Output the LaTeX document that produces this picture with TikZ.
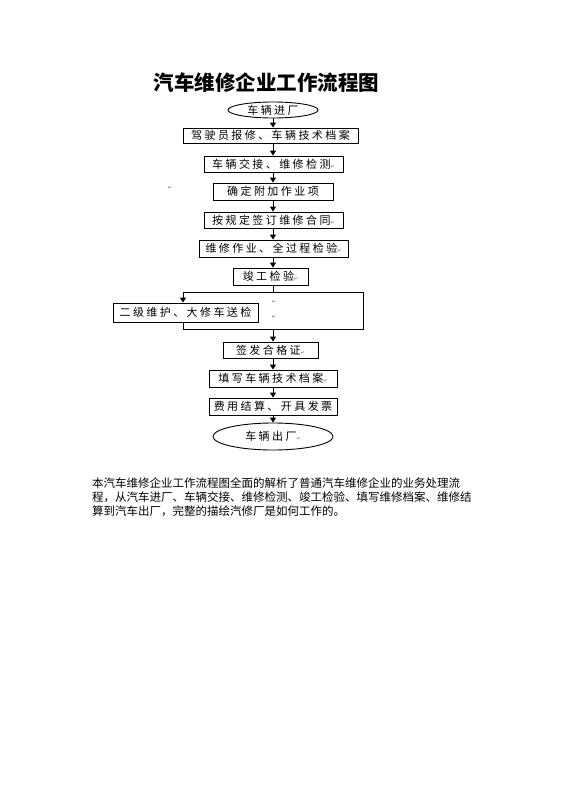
\documentclass[tikz,border=0pt]{standalone}
\usepackage{fontspec}
\usetikzlibrary{shapes.geometric,arrows.meta}
\newfontfamily\cjk{Noto Sans CJK SC}
\newfontfamily\cjkbox[LetterSpace=22]{Noto Sans CJK SC}
\newfontfamily\symfont{DejaVu Sans}
\newcommand{\pmark}{{\symfont\fontsize{5}{5}\selectfont\color{black!60}↵}}
\tikzset{
  x=1pt, y=-1pt,
  stepbox/.style={draw=black, line width=0.9pt, rectangle, inner sep=0pt, font=\cjkbox\fontsize{11}{11}\selectfont, text=black, fill=white},
  ovalbox/.style={draw=black, line width=0.9pt, ellipse, inner sep=0pt, font=\cjkbox\fontsize{11}{11}\selectfont, text=black, fill=white},
  arr/.style={line width=0.9pt, -{Triangle[length=5pt,width=6pt]}},
  ln/.style={line width=0.9pt},
}
\begin{document}
\begin{tikzpicture}
\useasboundingbox (0,0) rectangle (560,792);
\fill[white] (0,0) rectangle (560,792);
\node (title) at (266.5,83) {\cjk\bfseries\fontsize{20.5}{20.5}\selectfont 汽车维修企业工作流程图};
\node[ovalbox, minimum width=90pt, minimum height=16pt] (e1) at (273,110) {车辆进厂};
\node[stepbox, minimum width=175pt, minimum height=15pt] (b1) at (270.5,135.5) {驾驶员报修、车辆技术档案};
\node[stepbox, minimum width=139pt, minimum height=16pt] (b2) at (273.5,164) {车辆交接、维修检测\pmark};
\node[stepbox, minimum width=120pt, minimum height=17pt] (b3) at (273,191.5) {确定附加作业项};
\node[stepbox, minimum width=139pt, minimum height=16pt] (b4) at (273.5,220) {按规定签订维修合同\pmark};
\node[stepbox, minimum width=149pt, minimum height=17pt] (b5) at (273.5,248.5) {维修作业、全过程检验\pmark};
\node[stepbox, minimum width=75pt, minimum height=17pt] (b6) at (270.5,276.5) {竣工检验\pmark};
\node[stepbox, minimum width=145pt, minimum height=19pt] (b7) at (185.5,312.5) {二级维护、大修车送检};
\node[stepbox, minimum width=95pt, minimum height=16pt] (b8) at (270.5,350) {签发合格证\pmark};
\node[stepbox, minimum width=128pt, minimum height=17pt] (b9) at (273,378.5) {填写车辆技术档案\pmark};
\node[stepbox, minimum width=128pt, minimum height=17pt] (b10) at (273,406.5) {费用结算、开具发票};
\node[ovalbox, minimum width=120pt, minimum height=27pt] (e2) at (273,436.5) {车辆出厂\pmark};
\node (m1) at (170,188) {\pmark};
\node (m2) at (274,302) {\pmark};
\node (m3) at (274,317) {\pmark};
\coordinate (lt) at (183,292);
\coordinate (rt) at (363,292);
\coordinate (rb) at (363,329);
\coordinate (lb) at (183,329);
\coordinate (tm) at (273,292);
\coordinate (bm) at (273,329);
\draw[arr] (e1.south) -- (e1.south |- b1.north);
\draw[arr] (b1.south -| tm) -- (tm |- b2.north);
\draw[arr] (b2.south -| tm) -- (tm |- b3.north);
\draw[arr] (b3.south -| tm) -- (tm |- b4.north);
\draw[arr] (b4.south -| tm) -- (tm |- b5.north);
\draw[arr] (b5.south -| tm) -- (tm |- b6.north);
\draw[ln] (b6.south -| tm) -- (tm);
\draw[ln] (lt) -- (rt) -- (rb) -- (lb) -- (lb |- b7.south);
\draw[arr] (lt) -- (lt |- b7.north);
\draw[arr] (bm) -- (bm |- b8.north);
\draw[arr] (b8.south -| tm) -- (tm |- b9.north);
\draw[arr] (b9.south -| tm) -- (tm |- b10.north);
\draw[arr] (b10.south -| tm) -- (tm |- e2.north);
\node[anchor=north west, align=left, inner sep=0pt, font=\cjk\fontsize{11.5}{13.6}\selectfont, text=black] (para) at (92,478)
  {本汽车维修企业工作流程图全面的解析了普通汽车维修企业的业务处理流\\程，从汽车进厂、车辆交接、维修检测、竣工检验、填写维修档案、维修结\\算到汽车出厂，完整的描绘汽修厂是如何工作的。};
\end{tikzpicture}
\end{document}
